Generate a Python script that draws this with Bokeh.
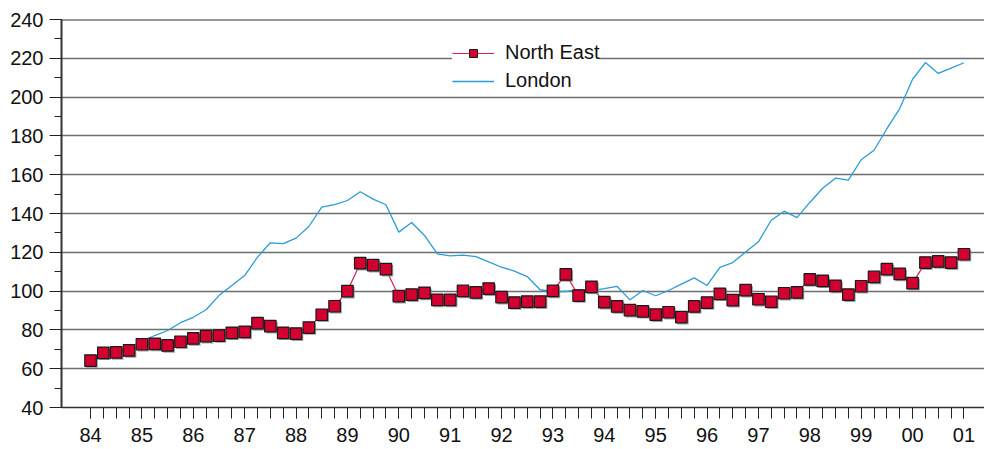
from bokeh.plotting import figure
from bokeh.models import ColumnDataSource, FixedTicker, Legend, LegendItem, Span
from bokeh.transform import dodge
from bokeh.embed import file_html
from bokeh.resources import INLINE

# Quarterly index values, 1984 Q1 .. 2001 Q1
year_labels = ["84", "85", "86", "87", "88", "89", "90", "91", "92", "93",
               "94", "95", "96", "97", "98", "99", "00", "01"]

north_east = [64.2, 68.2, 68.4, 69.4, 72.6, 72.8, 72.0, 73.9,
              75.6, 76.8, 77.1, 78.5, 79.0, 83.5, 81.9, 78.5,
              78.1, 81.2, 87.8, 92.2, 100.0, 114.4, 113.4, 111.3,
              97.4, 98.2, 99.1, 95.5, 95.5, 100.1, 99.3, 101.3,
              96.9, 94.1, 94.6, 94.6, 100.1, 108.6, 97.7, 102.2,
              94.3, 92.1, 90.2, 89.6, 87.9, 89.1, 86.6, 92.1,
              94.1, 98.6, 95.3, 100.5, 95.8, 94.5, 98.9, 99.3,
              106.0, 105.3, 102.7, 98.2, 102.5, 107.3, 111.3, 108.9,
              104.1, 114.7, 115.3, 114.7, 119.0]

london = [63.4, 66.3, 68.0, 70.8, 74.2, 77.1, 79.7, 83.7,
          86.5, 90.4, 97.7, 102.9, 108.0, 117.5, 124.9, 124.5,
          127.3, 133.3, 143.3, 144.6, 146.7, 151.2, 147.4, 144.5,
          130.4, 135.4, 128.7, 119.2, 118.2, 118.5, 117.8, 115.1,
          112.3, 110.3, 107.5, 100.7, 99.8, 99.8, 100.8, 100.3,
          101.3, 102.4, 95.5, 100.3, 97.6, 100.3, 103.6, 106.8,
          102.9, 112.2, 114.7, 120.1, 125.4, 136.5, 141.2, 137.9,
          145.7, 153.0, 158.2, 157.2, 167.7, 172.6, 183.7, 194.1,
          209.2, 217.8, 212.2, 214.9, 217.7]

quarters = list(range(len(north_east)))
src = ColumnDataSource(data=dict(q=quarters, ne=north_east, lon=london))

FONT = "Liberation Sans"

p = figure(width=984, height=449, output_backend="svg", toolbar_location=None,
           x_range=(-2.26, 69.6), y_range=(40, 240),
           min_border_left=61, min_border_right=0, min_border_top=19,
           min_border_bottom=42)
p.outline_line_color = None
p.background_fill_color = "white"
p.border_fill_color = "white"

# grid
p.xgrid.visible = False
p.ygrid.ticker = FixedTicker(ticks=list(range(60, 221, 20)))
p.ygrid.grid_line_color = "#6e6e6e"
p.ygrid.grid_line_width = 1.5
p.add_layout(Span(location=240, dimension="width", line_color="#333333", line_width=2))

# x axis
xa = p.xaxis[0]
xa.ticker = FixedTicker(ticks=quarters[::4], minor_ticks=quarters)
xa.major_label_overrides = {q: lbl for q, lbl in zip(quarters[::4], year_labels)}
xa.major_tick_in = 0
xa.major_tick_out = 11
xa.minor_tick_in = 0
xa.minor_tick_out = 11
xa.major_tick_line_color = "#222222"
xa.minor_tick_line_color = "#222222"
xa.axis_line_color = "#333333"
xa.axis_line_width = 1.5
xa.major_label_standoff = 9

# y axis
ya = p.yaxis[0]
ya.ticker = FixedTicker(ticks=list(range(40, 241, 20)), minor_ticks=list(range(40, 241, 10)))
ya.major_tick_in = 0
ya.major_tick_out = 12
ya.minor_tick_in = 0
ya.minor_tick_out = 7
ya.major_tick_line_color = "#222222"
ya.minor_tick_line_color = "#222222"
ya.axis_line_color = "#333333"
ya.axis_line_width = 2
ya.major_label_standoff = 6

for ax in (xa, ya):
    ax.major_label_text_font = FONT
    ax.major_label_text_font_size = "20px"
    ax.major_label_text_color = "#111111"

# series
lon_line = p.line("q", "lon", source=src, line_color="#2b9bd8", line_width=1.3)
ne_line = p.line("q", "ne", source=src, line_color="#d81e48", line_width=1.2)
p.scatter(dodge("q", 0.12), dodge("ne", -0.8), source=src, marker="square",
          size=11.5, fill_color="#8a8a8a", line_color=None, fill_alpha=0.8)
ne_pts = p.scatter("q", "ne", source=src, marker="square", size=11.5,
                   fill_color="#d4002f", line_color="#1a1a1a", line_width=1.2)

# smaller marker used only for the legend swatch (not drawn in the plot)
legend_src = ColumnDataSource(data=dict(q=[float("nan")], ne=[float("nan")]))
ne_key = p.scatter("q", "ne", source=legend_src, marker="square", size=8,
                   fill_color="#d4002f", line_color="#1a1a1a", line_width=1)

legend = Legend(items=[LegendItem(label="North East", renderers=[ne_line, ne_key]),
                       LegendItem(label="London", renderers=[lon_line])],
                location=(391, 315), orientation="vertical",
                background_fill_color="white", background_fill_alpha=1.0,
                border_line_color=None, padding=14, margin=0, spacing=5,
                glyph_width=42, glyph_height=20, label_height=20,
                label_standoff=11, label_text_font=FONT,
                label_text_font_size="20px", label_text_color="#111111")
p.add_layout(legend)

open("out.html", "w").write(file_html(p, INLINE))
